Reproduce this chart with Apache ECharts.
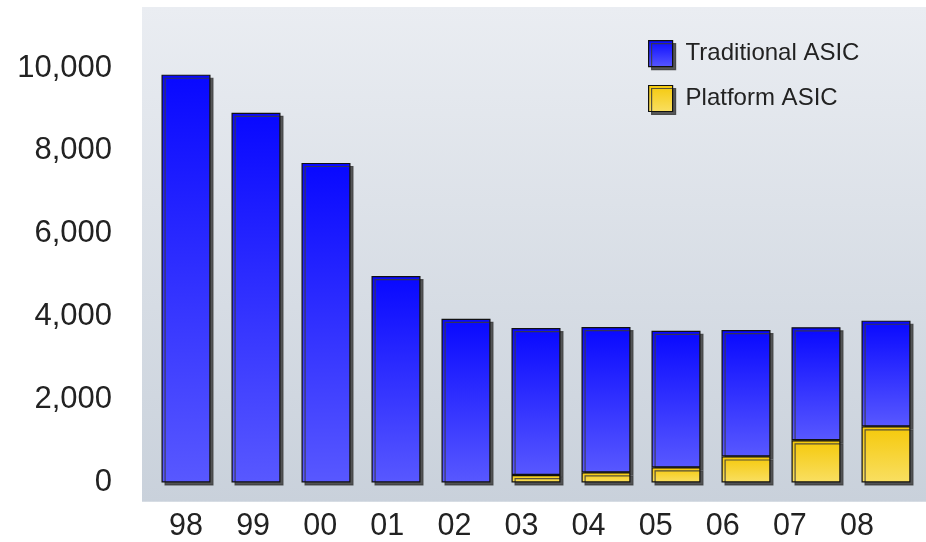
<!DOCTYPE html>
<html>
<head>
<meta charset="utf-8">
<script src="https://cdn.jsdelivr.net/npm/echarts@6/dist/echarts.min.js"></script>
<style>
html,body{margin:0;padding:0;background:#fff;}
#chart{width:926px;height:542px;}
</style>
</head>
<body>
<div id="chart"></div>
<script>
var categories = ['98','99','00','01','02','03','04','05','06','07','08'];
var traditionalASIC = [9840, 8920, 7710, 4980, 3950, 3545, 3505, 3295, 3050, 2725, 2550];
var platformASIC = ['-', '-', '-', '-', '-', 180, 245, 365, 630, 1020, 1355];
var yTicks = { min: 0, max: 10000, interval: 2000 };

var FONT = '"Liberation Sans", Arial, Helvetica, sans-serif';
var blueGrad = new echarts.graphic.LinearGradient(0, 0, 0, 1, [
  { offset: 0, color: '#0808ff' },
  { offset: 1, color: '#5858ff' }
]);
var yellowGrad = new echarts.graphic.LinearGradient(0, 0, 0, 1, [
  { offset: 0, color: '#f5c90a' },
  { offset: 1, color: '#f9df62' }
]);
var shadow = { shadowColor: 'rgba(60,60,60,0.85)', shadowBlur: 0, shadowOffsetX: 3, shadowOffsetY: 3 };

var chart = echarts.init(document.getElementById('chart'), null, { renderer: 'canvas' });
chart.setOption({
  animation: false,
  backgroundColor: '#ffffff',
  graphic: [{
    type: 'rect',
    z: -10,
    silent: true,
    shape: { x: 142, y: 7, width: 784, height: 494.7 },
    style: {
      fill: new echarts.graphic.LinearGradient(0, 0, 0, 1, [
        { offset: 0, color: '#eaedf2' },
        { offset: 1, color: '#c9d1db' }
      ])
    }
  }],
  legend: {
    orient: 'vertical',
    left: 648,
    top: 40,
    padding: 0,
    itemWidth: 24,
    itemHeight: 26,
    itemGap: 17.7,
    icon: 'rect',
    data: ['Traditional ASIC', 'Platform ASIC'],
    textStyle: { fontFamily: FONT, fontSize: 24, color: '#222', padding: [0, 0, 0, 8] },
    itemStyle: { borderColor: '#111', borderWidth: 1.2, shadowColor: 'rgba(60,60,60,0.85)', shadowBlur: 0, shadowOffsetX: 3, shadowOffsetY: 3 }
  },
  grid: [
    { left: 151, right: 5, top: 68, bottom: 59.5 },
    { left: 152.45, right: 35.5, top: 68, bottom: 40.3 }
  ],
  xAxis: [
    { type: 'category', gridIndex: 0, data: categories, show: false },
    {
      type: 'category', gridIndex: 1, data: categories,
      axisLine: { show: false }, axisTick: { show: false }, splitLine: { show: false },
      axisLabel: { fontFamily: FONT, fontSize: 30.5, color: '#222', margin: 15 }
    }
  ],
  yAxis: [
    {
      type: 'value', gridIndex: 0, min: yTicks.min, max: yTicks.max, interval: yTicks.interval,
      axisLine: { show: false }, axisTick: { show: false }, splitLine: { show: false },
      axisLabel: {
        fontFamily: FONT, fontSize: 31, color: '#222', margin: 39,
        padding: [0, 0, 6, 0],
        formatter: function (v) { return v.toLocaleString('en-US'); }
      }
    },
    { type: 'value', gridIndex: 1, show: false, min: 0, max: 1 }
  ],
  series: [
    {
      name: 'Platform ASIC',
      type: 'bar',
      stack: 'total',
      xAxisIndex: 0, yAxisIndex: 0,
      z: 3,
      barWidth: 49,
      data: platformASIC,
      itemStyle: Object.assign({ color: yellowGrad, borderColor: '#111', borderWidth: 1.2 }, shadow)
    },
    {
      name: 'Traditional ASIC',
      type: 'bar',
      stack: 'total',
      xAxisIndex: 0, yAxisIndex: 0,
      z: 2,
      barWidth: 49,
      data: traditionalASIC,
      itemStyle: Object.assign({ color: blueGrad, borderColor: '#111', borderWidth: 1.2 }, shadow)
    }
  ]
});
</script>
</body>
</html>
